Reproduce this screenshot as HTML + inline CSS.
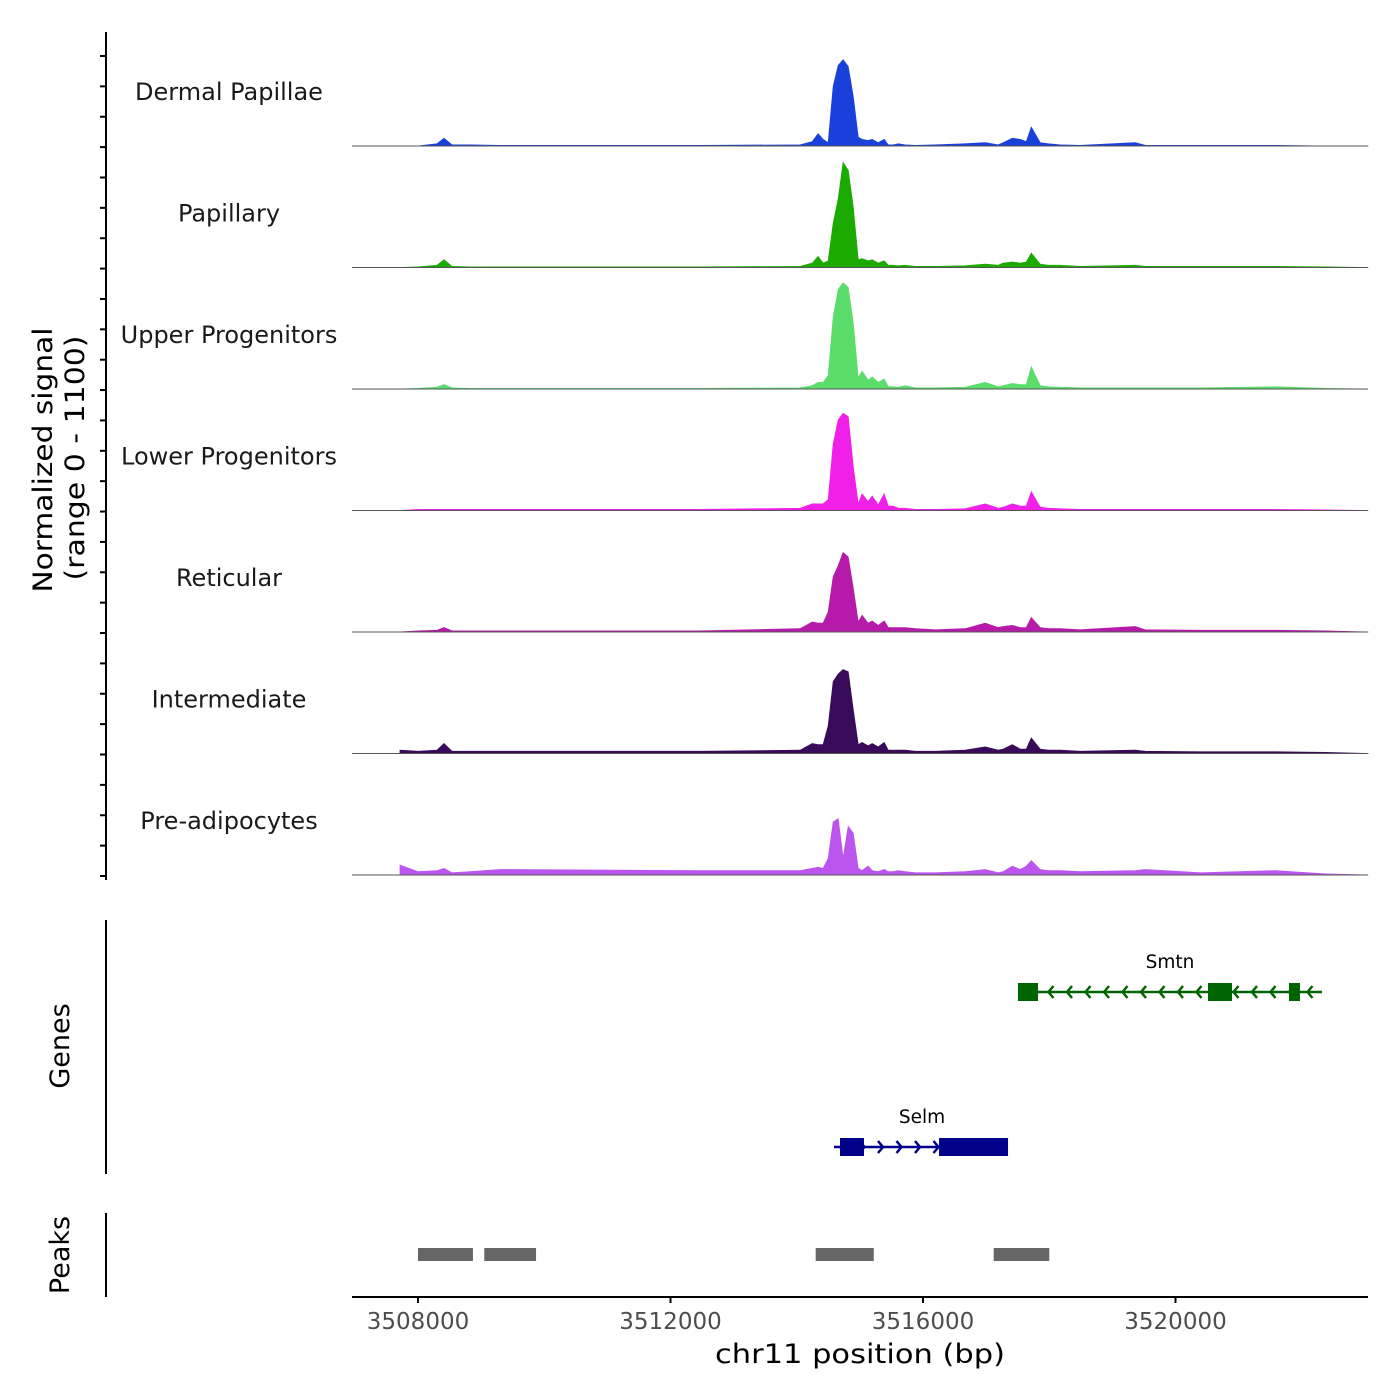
<!DOCTYPE html>
<html><head><meta charset="utf-8"><style>
html,body{margin:0;padding:0;background:#fff}
svg{display:block;font-family:"DejaVu Sans","Liberation Sans",sans-serif}
</style></head><body>
<svg id="chart" width="1400" height="1400" viewBox="0 0 1400 1400" xmlns="http://www.w3.org/2000/svg">
<g id="tracks"></g>
<g id="leftaxis"></g>
<text transform="translate(52,460) rotate(-90)" text-anchor="middle" font-size="27" fill="#000" textLength="265" lengthAdjust="spacingAndGlyphs">Normalized signal</text>
<text transform="translate(84,458) rotate(-90)" text-anchor="middle" font-size="27" fill="#000" textLength="245" lengthAdjust="spacingAndGlyphs">(range 0 - 1100)</text>
<line x1="106" y1="920" x2="106" y2="1174" stroke="#000" stroke-width="2"/>
<text transform="translate(69,1046) rotate(-90)" text-anchor="middle" font-size="27" fill="#000">Genes</text>
<line x1="106" y1="1213" x2="106" y2="1297" stroke="#000" stroke-width="2"/>
<text transform="translate(69,1255) rotate(-90)" text-anchor="middle" font-size="27" fill="#000">Peaks</text>
<g id="genes"></g>
<g id="peaks"></g>
<g id="xaxis"></g>
<text x="860" y="1363" text-anchor="middle" font-size="27" fill="#000" textLength="290" lengthAdjust="spacingAndGlyphs">chr11 position (bp)</text>
</svg>
<script>
const positions = [3507715,3508000,3508301,3508412,3508539,3508824,3509300,3512469,3514054,3514244,3514339,3514418,3514498,3514577,3514656,3514735,3514815,3514894,3514973,3515036,3515131,3515195,3515290,3515385,3515448,3515528,3515607,3515718,3515876,3516193,3516669,3516986,3517192,3517271,3517414,3517540,3517636,3517715,3517857,3517984,3518174,3518491,3519363,3519521,3520393,3521582,3522374,3523055];
const trackNames = ["Dermal Papillae","Papillary","Upper Progenitors","Lower Progenitors","Reticular","Intermediate","Pre-adipocytes"];
const trackColors = ["#1a40dc","#1aaa00","#5add6a","#f020e8","#b51aa8","#3a0a5a","#bb55ee"];
const dermalValues = [0,0,20,70,10,10,5,5,10,40,110,60,30,540,730,780,720,450,80,60,50,60,30,60,10,10,20,10,5,10,20,30,10,30,70,60,40,170,30,20,10,5,30,5,5,5,0,0];
const papillaryValues = [0,5,20,70,10,5,5,5,10,40,100,40,60,400,620,950,880,550,70,80,60,70,40,60,20,20,15,20,10,10,15,30,20,40,50,40,50,130,30,20,20,10,20,10,10,10,5,0];
const upperValues = [0,5,15,40,10,5,5,5,10,30,60,60,120,650,900,960,920,600,100,160,80,110,60,90,20,20,15,30,10,10,15,60,20,30,50,40,40,200,30,20,15,10,10,10,10,20,5,0];
const lowerValues = [0,10,10,10,10,10,10,10,20,60,60,60,100,600,820,880,850,400,60,150,80,130,50,150,40,40,20,20,10,10,15,60,20,30,60,40,40,170,30,20,15,10,10,10,10,10,5,0];
const reticularValues = [0,10,15,40,10,10,10,10,30,90,80,80,180,500,600,720,680,400,90,150,80,100,60,100,40,40,40,40,30,20,30,80,40,50,60,40,40,130,40,30,30,20,50,20,15,15,10,0];
const intermediateValues = [30,20,30,90,20,20,20,20,30,90,80,80,250,650,720,760,740,400,80,100,70,90,60,100,30,30,30,30,20,20,30,60,30,40,80,40,40,140,40,30,30,20,30,20,15,15,10,0];
const preadipValues = [90,30,40,60,20,30,50,40,40,60,70,60,150,480,510,150,440,380,60,40,80,40,30,50,30,30,40,30,20,20,30,50,20,30,80,50,80,130,50,40,40,30,40,50,20,40,10,0];
const xTicks = [3508000,3512000,3516000,3520000];
const peakStarts = [3508000,3509050,3514300,3517120];
const peakEnds = [3508870,3509870,3515220,3518000];
const yMax = 1100;

const NS="http://www.w3.org/2000/svg";
const X0=352,X1=1368;
const xScale = bp => 418 + (bp-3508000)*(923-418)/8000;
const allValues=[dermalValues,papillaryValues,upperValues,lowerValues,reticularValues,intermediateValues,preadipValues];
const trackH=121.5, firstBase=146;
const tracks=document.getElementById('tracks');
function mk(tag,attrs,parent){const e=document.createElementNS(NS,tag);for(const k in attrs)e.setAttribute(k,attrs[k]);parent.appendChild(e);return e;}
allValues.forEach((vals,t)=>{
  const base=firstBase+t*trackH;
  const yS=v=>base - v/yMax*trackH;
  let d=`M${xScale(positions[0])},${base}`;
  vals.forEach((v,i)=>{d+=` L${xScale(positions[i]).toFixed(1)},${yS(v).toFixed(1)}`;});
  d+=` L${xScale(positions[positions.length-1])},${base} Z`;
  const p=mk('path',{d:d,fill:trackColors[t],stroke:trackColors[t],'stroke-width':0.8},tracks);
  
  
  const l=mk('line',{x1:X0,x2:X1,y1:base,y2:base,stroke:'#555','stroke-width':1},tracks);
  
  
  const tx=mk('text',{x:229,y:base-46,'text-anchor':'middle','font-size':24,fill:'#1a1a1a'},tracks);
  tx.textContent=trackNames[t];
  
  
});
const la=document.getElementById('leftaxis');
mk('line',{x1:106,y1:32,x2:106,y2:880,stroke:'#000','stroke-width':2},la);
for(let y=56;y<=880;y+=30.37){
  const tk=mk('line',{x1:100,x2:106,y1:y,y2:y,stroke:'#000','stroke-width':2},la);
  
  
}
const g=document.getElementById('genes');
function gene(name,y,start,end,exons,dir,color,labelX){
  mk('line',{x1:xScale(start),x2:xScale(end),y1:y,y2:y,stroke:color,'stroke-width':2.5},g);
  const a0=xScale(start),a1=xScale(end);
  for(let x=a0+12;x<a1-4;x+=18.5){
    const s=dir>0?-5:5;
    mk('polyline',{points:`${x+s},${y-6} ${x},${y} ${x+s},${y+6}`,fill:'none',stroke:color,'stroke-width':2.5},g);
  }
  exons.forEach(e=>{
    const r=mk('rect',{x:xScale(e[0]),y:y-9,width:xScale(e[1])-xScale(e[0]),height:18,fill:color},g);
    
    
  });
  const t=mk('text',{x:labelX,y:y-24,'text-anchor':'middle','font-size':18.5,fill:'#000'},g);
  t.textContent=name;
  
  
}
gene('Smtn',992,3517505,3522320,[[3517505,3517822],[3520515,3520895],[3521798,3521972]],-1,'#006400',1170);
gene('Selm',1147,3514590,3517347,[[3514685,3515065],[3516254,3517347]],1,'#00008b',922);
const pk=document.getElementById('peaks');
peakStarts.forEach((s,i)=>{
  const r=mk('rect',{x:xScale(s),y:1248,width:xScale(peakEnds[i])-xScale(s),height:13,fill:'#666'},pk);
  
  
});
const xa=document.getElementById('xaxis');
mk('line',{x1:X0,x2:X1,y1:1297,y2:1297,stroke:'#000','stroke-width':2},xa);
xTicks.forEach(v=>{
  const x=xScale(v);
  mk('line',{x1:x,x2:x,y1:1297,y2:1303,stroke:'#000','stroke-width':2},xa);
  const t=mk('text',{x:x,y:1329,'text-anchor':'middle','font-size':23,fill:'#4d4d4d'},xa);
  t.textContent=v;
  
  
});
</script>
</body></html>
